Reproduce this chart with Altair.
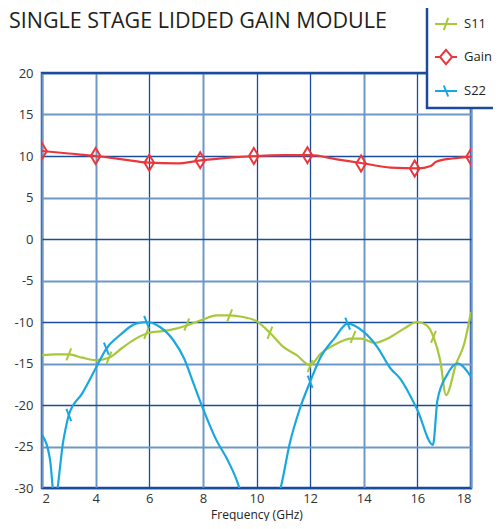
import altair as alt
import pandas as pd

# ---- data ----
title_text = ["SINGLE STAGE LIDDED GAIN MODULE"]

gain_f = [2, 3, 4, 5, 6, 7, 8, 9, 10, 11, 12, 13, 14, 15, 16, 16.5, 16.7, 17.3, 18]
gain_v = [10.6, 10.3, 10.0, 9.6, 9.2, 9.1, 9.5, 9.8, 10.0, 10.1, 10.1, 9.6, 9.1, 8.6, 8.5, 8.8, 9.3, 9.7, 9.9]
gain_mf = [2, 4, 6, 7.9, 9.9, 11.9, 13.9, 15.9, 18]
gain_mv = [10.6, 10.0, 9.2, 9.5, 10.0, 10.1, 9.1, 8.5, 9.9]

s11_f = [2, 2.5, 3, 3.5, 4, 4.5, 5, 5.5, 6, 6.5, 7, 7.5, 8, 8.5, 9, 9.5, 10, 10.5, 11,
         11.5, 12, 12.4, 13, 13.5, 13.9, 14.4, 15, 15.5, 16, 16.35, 16.6, 16.85, 17.07,
         17.45, 17.75, 18]
s11_v = [-14.0, -13.9, -13.9, -14.3, -14.6, -14.3, -13.1, -12.0, -11.3, -11.1, -10.8,
         -10.3, -9.7, -9.2, -9.2, -9.4, -9.9, -11.3, -13.0, -14.0, -15.2, -13.8, -12.6,
         -12.0, -12.0, -12.5, -11.8, -10.8, -10.0, -10.4, -11.8, -14.6, -18.8, -15.0,
         -12.6, -8.8]
s11_mf = [3.0, 4.5, 5.9, 7.4, 9.0, 10.5, 12.0, 13.6, 16.6]
s11_mv = [-13.9, -14.3, -11.3, -10.3, -9.2, -11.3, -15.3, -11.8, -11.8]

s22_f = [2.0, 2.3, 2.47, 2.8, 3.0, 3.5, 4.0, 4.4, 4.9, 5.5, 5.9, 6.4, 6.9, 7.3, 7.65,
         8.0, 8.5, 8.95, 9.36, 9.6, 10.6, 10.9, 11.25, 11.6, 12.0, 12.4, 12.9, 13.4,
         14.0, 14.5, 15.0, 15.35, 16.0, 16.58, 16.75, 17.1, 17.5, 18.0]
s22_v = [-23.6, -26.6, -31.5, -24.2, -21.2, -18.6, -15.6, -13.2, -11.6, -10.2, -10.0,
         -10.6, -12.2, -14.4, -17.4, -20.4, -24.2, -26.8, -30.0, -33.0, -33.0, -30.0,
         -24.5, -20.6, -17.2, -14.2, -12.0, -10.2, -11.2, -13.0, -15.6, -16.8, -20.6,
         -24.8, -19.4, -16.4, -15.0, -16.6]
s22_mf = [3.0, 4.4, 5.9, 12.0, 13.4]
s22_mv = [-21.2, -13.2, -10.0, -17.2, -10.2]

series = ["S11", "Gain", "S22"]
colors = ["#A8C83C", "#E8383D", "#19A7E0"]

x_ticks = [2, 4, 6, 8, 10, 12, 14, 16, 18]
y_ticks = [-30, -25, -20, -15, -10, -5, 0, 5, 10, 15, 20]

# ---- shapes (unit paths) ----
p_s11 = "M-0.22,0.55L0.22,-0.55"
p_s22 = "M-0.22,-0.55L0.22,0.55"
p_gain = "M0,-1L0.6,0L0,1L-0.6,0Z"
leg_s11 = "M-1,0L1,0M-0.2,0.55L0.2,-0.55"
leg_gain = "M-1,0L-0.55,0M0.55,0L1,0M0,-0.65L0.55,0L0,0.65L-0.55,0Z"
leg_s22 = "M-1,0L1,0M-0.2,-0.5L0.2,0.5"


def frame(f, v):
    return pd.DataFrame({"f": f, "v": v})


DARK = "#1A4C9C"
LIGHT = "#6E97C9"

x_enc = alt.X(
    "f:Q",
    scale=alt.Scale(domain=[2, 18], nice=False, zero=False),
    axis=alt.Axis(
        values=x_ticks, title="Frequency (GHz)", titleFont="Open Sans",
        titleFontSize=12, titleFontWeight="normal", titleColor="#222222",
        titlePadding=4, labelPadding=4,
        gridColor={"condition": {"test": "indexof([6,10,12,16], datum.value) >= 0", "value": DARK}, "value": LIGHT},
        gridWidth={"condition": {"test": "indexof([6,10,12,16], datum.value) >= 0", "value": 1.3}, "value": 2},
    ),
)
y_enc = alt.Y(
    "v:Q",
    scale=alt.Scale(domain=[-30, 20], nice=False, zero=False),
    axis=alt.Axis(
        values=y_ticks, title=None, labelPadding=9,
        labelExpr="'' + datum.value",
        gridColor={"condition": {"test": "datum.value % 10 == 0", "value": DARK}, "value": LIGHT},
        gridWidth={"condition": {"test": "datum.value % 10 == 0", "value": 1.3}, "value": 2},
    ),
)


def line(f, v, color):
    return alt.Chart(frame(f, v)).mark_line(
        interpolate="monotone", strokeWidth=2.2, color=color, clip=True
    ).encode(x=x_enc, y=y_enc)


def marks(f, v, color, shape, size):
    return alt.Chart(frame(f, v)).mark_point(
        shape=shape, filled=False, color=color, strokeWidth=2, size=size,
        opacity=1, clip=True
    ).encode(x=x_enc, y=y_enc)


def make_legend():
    return alt.Legend(
        orient="none", legendX=385, legendY=-68, title=None,
        fillColor="white", strokeColor="#1B4A9A", padding=7,
        rowPadding=10, labelOffset=6, labelFont="Open Sans",
        labelFontSize=13, labelColor="#222222",
        symbolOpacity=1, symbolStrokeWidth=2, symbolSize=484,
    )


leg_df = pd.DataFrame({"series": series, "f": [10, 10, 10], "v": [0, 0, 0]})
legend_layer = alt.Chart(leg_df).mark_point(
    filled=False, opacity=0, size=484, strokeWidth=2
).encode(
    x=x_enc, y=y_enc,
    color=alt.Color("series:N", sort=series,
                    scale=alt.Scale(domain=series, range=colors),
                    legend=make_legend()),
    shape=alt.Shape("series:N", sort=series,
                    scale=alt.Scale(domain=series, range=[leg_s11, leg_gain, leg_s22]),
                    legend=make_legend()),
)

title_layer = alt.Chart(pd.DataFrame({"t": title_text})).mark_text(
    align="left", baseline="alphabetic", x=-33, y=-45,
    font="Open Sans", fontSize=21.5, fontWeight="normal", color="#231F20",
).encode(text="t:N")

chart = alt.layer(
    line(s11_f, s11_v, colors[0]),
    marks(s11_mf, s11_mv, colors[0], p_s11, 484),
    line(gain_f, gain_v, colors[1]),
    marks(gain_mf, gain_mv, colors[1], p_gain, 256),
    line(s22_f, s22_v, colors[2]),
    marks(s22_mf, s22_mv, colors[2], p_s22, 484),
    legend_layer,
    title_layer,
).properties(
    width=429, height=415,
    autosize=alt.AutoSizeParams(type="none"),
    padding={"left": 34, "top": 65, "right": 22, "bottom": 33},
).configure_view(
    fill="#E0F2FA", stroke="#1B4A9A", strokeWidth=2.5
).configure_axis(
    domain=False, ticks=False, labelFont="Open Sans", labelFontSize=13,
    labelColor="#333333",
).configure_legend(
    strokeWidth=2.5
)

chart.save("out.html", embed_options={"renderer": "svg", "actions": False})
